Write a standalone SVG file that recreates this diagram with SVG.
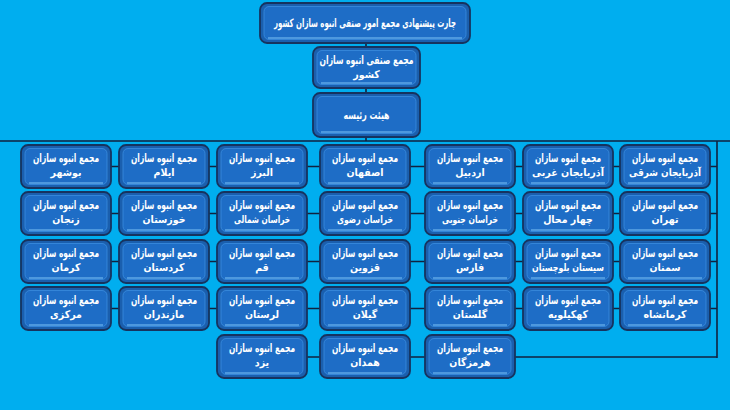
<svg xmlns="http://www.w3.org/2000/svg" width="730" height="410" viewBox="0 0 730 410">
<style>
.o{fill:#1a5fae;stroke:#16335f;stroke-width:1.8}
.i{fill:#1e6dc6;stroke:#3b8ee0;stroke-width:0.8}
.s{stroke:#7cc4f5;stroke-width:1.2}
.t{font-family:"DejaVu Sans Condensed","DejaVu Sans",sans-serif;font-weight:bold;font-size:11.5px;fill:#ffffff;text-anchor:middle}
.p{font-size:10.5px}
.c{stroke:#10223f;stroke-width:1.6;fill:none}
</style>
<rect width="730" height="410" fill="#00aeef"/>
<g id="connectors">
<path class="c" d="M366 43V47M366 88V93M366 137V141M0 141H730M717 141V358M110 166.5H717M110 213.5H717M110 261.5H717M110 308.5H717M306 357H717"/>
</g>
<g id="title"><rect class="o" x="260" y="3" width="210" height="40" rx="7"/><rect class="i" x="264" y="6.5" width="202" height="33" rx="5"/><line class="s" x1="268" y1="38" x2="462" y2="38"/><text class="t" x="365" y="27" font-size="12.5" textLength="182" lengthAdjust="spacingAndGlyphs">چارت پیشنهادی مجمع امور صنفی انبوه سازان کشور</text></g>
<g id="n-keshvar"><rect class="o" x="313" y="47" width="107" height="41" rx="7"/><rect class="i" x="317" y="50.5" width="99" height="34" rx="5"/><line class="s" x1="321" y1="83" x2="412" y2="83"/><text class="t" x="366.5" y="64" textLength="94" lengthAdjust="spacingAndGlyphs">مجمع صنفی انبوه سازان</text><text class="t p" x="366.5" y="78">کشور</text></g>
<g id="n-heyat"><rect class="o" x="313" y="93" width="107" height="44" rx="7"/><rect class="i" x="317" y="96.5" width="99" height="37" rx="5"/><line class="s" x1="321" y1="132" x2="412" y2="132"/><text class="t" x="366.5" y="119" textLength="46" lengthAdjust="spacingAndGlyphs">هیئت رئیسه</text></g>

<g id="n-azsharghi"><rect class="o" x="620" y="145" width="90" height="43" rx="7"/><rect class="i" x="624" y="148.5" width="82" height="36" rx="5"/><line class="s" x1="628" y1="183" x2="702" y2="183"/><text class="t" x="665" y="162" textLength="66" lengthAdjust="spacingAndGlyphs">مجمع انبوه سازان</text><text class="t p" x="665" y="176" textLength="72" lengthAdjust="spacingAndGlyphs">آذربایجان شرقی</text></g>
<g id="n-azgharbi"><rect class="o" x="523" y="145" width="90" height="43" rx="7"/><rect class="i" x="527" y="148.5" width="82" height="36" rx="5"/><line class="s" x1="531" y1="183" x2="605" y2="183"/><text class="t" x="568" y="162" textLength="66" lengthAdjust="spacingAndGlyphs">مجمع انبوه سازان</text><text class="t p" x="568" y="176" textLength="72" lengthAdjust="spacingAndGlyphs">آذربایجان غربی</text></g>
<g id="n-ardebil"><rect class="o" x="425" y="145" width="90" height="43" rx="7"/><rect class="i" x="429" y="148.5" width="82" height="36" rx="5"/><line class="s" x1="433" y1="183" x2="507" y2="183"/><text class="t" x="470" y="162" textLength="66" lengthAdjust="spacingAndGlyphs">مجمع انبوه سازان</text><text class="t p" x="470" y="176">اردبیل</text></g>
<g id="n-esfahan"><rect class="o" x="320" y="145" width="90" height="43" rx="7"/><rect class="i" x="324" y="148.5" width="82" height="36" rx="5"/><line class="s" x1="328" y1="183" x2="402" y2="183"/><text class="t" x="365" y="162" textLength="66" lengthAdjust="spacingAndGlyphs">مجمع انبوه سازان</text><text class="t p" x="365" y="176">اصفهان</text></g>
<g id="n-alborz"><rect class="o" x="217" y="145" width="90" height="43" rx="7"/><rect class="i" x="221" y="148.5" width="82" height="36" rx="5"/><line class="s" x1="225" y1="183" x2="299" y2="183"/><text class="t" x="262" y="162" textLength="66" lengthAdjust="spacingAndGlyphs">مجمع انبوه سازان</text><text class="t p" x="262" y="176">البرز</text></g>
<g id="n-ilam"><rect class="o" x="119" y="145" width="90" height="43" rx="7"/><rect class="i" x="123" y="148.5" width="82" height="36" rx="5"/><line class="s" x1="127" y1="183" x2="201" y2="183"/><text class="t" x="164" y="162" textLength="66" lengthAdjust="spacingAndGlyphs">مجمع انبوه سازان</text><text class="t p" x="164" y="176">ایلام</text></g>
<g id="n-bushehr"><rect class="o" x="21" y="145" width="90" height="43" rx="7"/><rect class="i" x="25" y="148.5" width="82" height="36" rx="5"/><line class="s" x1="29" y1="183" x2="103" y2="183"/><text class="t" x="66" y="162" textLength="66" lengthAdjust="spacingAndGlyphs">مجمع انبوه سازان</text><text class="t p" x="66" y="176">بوشهر</text></g>

<g id="n-tehran"><rect class="o" x="620" y="192" width="90" height="43" rx="7"/><rect class="i" x="624" y="195.5" width="82" height="36" rx="5"/><line class="s" x1="628" y1="230" x2="702" y2="230"/><text class="t" x="665" y="209" textLength="66" lengthAdjust="spacingAndGlyphs">مجمع انبوه سازان</text><text class="t p" x="665" y="223">تهران</text></g>
<g id="n-chaharmahal"><rect class="o" x="523" y="192" width="90" height="43" rx="7"/><rect class="i" x="527" y="195.5" width="82" height="36" rx="5"/><line class="s" x1="531" y1="230" x2="605" y2="230"/><text class="t" x="568" y="209" textLength="66" lengthAdjust="spacingAndGlyphs">مجمع انبوه سازان</text><text class="t p" x="568" y="223">چهار محال</text></g>
<g id="n-khjonubi"><rect class="o" x="425" y="192" width="90" height="43" rx="7"/><rect class="i" x="429" y="195.5" width="82" height="36" rx="5"/><line class="s" x1="433" y1="230" x2="507" y2="230"/><text class="t" x="470" y="209" textLength="66" lengthAdjust="spacingAndGlyphs">مجمع انبوه سازان</text><text class="t p" x="470" y="223" textLength="56" lengthAdjust="spacingAndGlyphs">خراسان جنوبی</text></g>
<g id="n-khrazavi"><rect class="o" x="320" y="192" width="90" height="43" rx="7"/><rect class="i" x="324" y="195.5" width="82" height="36" rx="5"/><line class="s" x1="328" y1="230" x2="402" y2="230"/><text class="t" x="365" y="209" textLength="66" lengthAdjust="spacingAndGlyphs">مجمع انبوه سازان</text><text class="t p" x="365" y="223" textLength="56" lengthAdjust="spacingAndGlyphs">خراسان رضوی</text></g>
<g id="n-khshomali"><rect class="o" x="217" y="192" width="90" height="43" rx="7"/><rect class="i" x="221" y="195.5" width="82" height="36" rx="5"/><line class="s" x1="225" y1="230" x2="299" y2="230"/><text class="t" x="262" y="209" textLength="66" lengthAdjust="spacingAndGlyphs">مجمع انبوه سازان</text><text class="t p" x="262" y="223" textLength="56" lengthAdjust="spacingAndGlyphs">خراسان شمالی</text></g>
<g id="n-khuzestan"><rect class="o" x="119" y="192" width="90" height="43" rx="7"/><rect class="i" x="123" y="195.5" width="82" height="36" rx="5"/><line class="s" x1="127" y1="230" x2="201" y2="230"/><text class="t" x="164" y="209" textLength="66" lengthAdjust="spacingAndGlyphs">مجمع انبوه سازان</text><text class="t p" x="164" y="223">خوزستان</text></g>
<g id="n-zanjan"><rect class="o" x="21" y="192" width="90" height="43" rx="7"/><rect class="i" x="25" y="195.5" width="82" height="36" rx="5"/><line class="s" x1="29" y1="230" x2="103" y2="230"/><text class="t" x="66" y="209" textLength="66" lengthAdjust="spacingAndGlyphs">مجمع انبوه سازان</text><text class="t p" x="66" y="223">زنجان</text></g>

<g id="n-semnan"><rect class="o" x="620" y="240" width="90" height="43" rx="7"/><rect class="i" x="624" y="243.5" width="82" height="36" rx="5"/><line class="s" x1="628" y1="278" x2="702" y2="278"/><text class="t" x="665" y="257" textLength="66" lengthAdjust="spacingAndGlyphs">مجمع انبوه سازان</text><text class="t p" x="665" y="271">سمنان</text></g>
<g id="n-sistan"><rect class="o" x="523" y="240" width="90" height="43" rx="7"/><rect class="i" x="527" y="243.5" width="82" height="36" rx="5"/><line class="s" x1="531" y1="278" x2="605" y2="278"/><text class="t" x="568" y="257" textLength="66" lengthAdjust="spacingAndGlyphs">مجمع انبوه سازان</text><text class="t p" x="568" y="271" textLength="72" lengthAdjust="spacingAndGlyphs">سیستان بلوچستان</text></g>
<g id="n-fars"><rect class="o" x="425" y="240" width="90" height="43" rx="7"/><rect class="i" x="429" y="243.5" width="82" height="36" rx="5"/><line class="s" x1="433" y1="278" x2="507" y2="278"/><text class="t" x="470" y="257" textLength="66" lengthAdjust="spacingAndGlyphs">مجمع انبوه سازان</text><text class="t p" x="470" y="271">فارس</text></g>
<g id="n-qazvin"><rect class="o" x="320" y="240" width="90" height="43" rx="7"/><rect class="i" x="324" y="243.5" width="82" height="36" rx="5"/><line class="s" x1="328" y1="278" x2="402" y2="278"/><text class="t" x="365" y="257" textLength="66" lengthAdjust="spacingAndGlyphs">مجمع انبوه سازان</text><text class="t p" x="365" y="271">قزوین</text></g>
<g id="n-qom"><rect class="o" x="217" y="240" width="90" height="43" rx="7"/><rect class="i" x="221" y="243.5" width="82" height="36" rx="5"/><line class="s" x1="225" y1="278" x2="299" y2="278"/><text class="t" x="262" y="257" textLength="66" lengthAdjust="spacingAndGlyphs">مجمع انبوه سازان</text><text class="t p" x="262" y="271">قم</text></g>
<g id="n-kordestan"><rect class="o" x="119" y="240" width="90" height="43" rx="7"/><rect class="i" x="123" y="243.5" width="82" height="36" rx="5"/><line class="s" x1="127" y1="278" x2="201" y2="278"/><text class="t" x="164" y="257" textLength="66" lengthAdjust="spacingAndGlyphs">مجمع انبوه سازان</text><text class="t p" x="164" y="271">کردستان</text></g>
<g id="n-kerman"><rect class="o" x="21" y="240" width="90" height="43" rx="7"/><rect class="i" x="25" y="243.5" width="82" height="36" rx="5"/><line class="s" x1="29" y1="278" x2="103" y2="278"/><text class="t" x="66" y="257" textLength="66" lengthAdjust="spacingAndGlyphs">مجمع انبوه سازان</text><text class="t p" x="66" y="271">کرمان</text></g>

<g id="n-kermanshah"><rect class="o" x="620" y="287" width="90" height="43" rx="7"/><rect class="i" x="624" y="290.5" width="82" height="36" rx="5"/><line class="s" x1="628" y1="325" x2="702" y2="325"/><text class="t" x="665" y="304" textLength="66" lengthAdjust="spacingAndGlyphs">مجمع انبوه سازان</text><text class="t p" x="665" y="318">کرمانشاه</text></g>
<g id="n-kohgiluyeh"><rect class="o" x="523" y="287" width="90" height="43" rx="7"/><rect class="i" x="527" y="290.5" width="82" height="36" rx="5"/><line class="s" x1="531" y1="325" x2="605" y2="325"/><text class="t" x="568" y="304" textLength="66" lengthAdjust="spacingAndGlyphs">مجمع انبوه سازان</text><text class="t p" x="568" y="318">کهکیلویه</text></g>
<g id="n-golestan"><rect class="o" x="425" y="287" width="90" height="43" rx="7"/><rect class="i" x="429" y="290.5" width="82" height="36" rx="5"/><line class="s" x1="433" y1="325" x2="507" y2="325"/><text class="t" x="470" y="304" textLength="66" lengthAdjust="spacingAndGlyphs">مجمع انبوه سازان</text><text class="t p" x="470" y="318">گلستان</text></g>
<g id="n-gilan"><rect class="o" x="320" y="287" width="90" height="43" rx="7"/><rect class="i" x="324" y="290.5" width="82" height="36" rx="5"/><line class="s" x1="328" y1="325" x2="402" y2="325"/><text class="t" x="365" y="304" textLength="66" lengthAdjust="spacingAndGlyphs">مجمع انبوه سازان</text><text class="t p" x="365" y="318">گیلان</text></g>
<g id="n-lorestan"><rect class="o" x="217" y="287" width="90" height="43" rx="7"/><rect class="i" x="221" y="290.5" width="82" height="36" rx="5"/><line class="s" x1="225" y1="325" x2="299" y2="325"/><text class="t" x="262" y="304" textLength="66" lengthAdjust="spacingAndGlyphs">مجمع انبوه سازان</text><text class="t p" x="262" y="318">لرستان</text></g>
<g id="n-mazandaran"><rect class="o" x="119" y="287" width="90" height="43" rx="7"/><rect class="i" x="123" y="290.5" width="82" height="36" rx="5"/><line class="s" x1="127" y1="325" x2="201" y2="325"/><text class="t" x="164" y="304" textLength="66" lengthAdjust="spacingAndGlyphs">مجمع انبوه سازان</text><text class="t p" x="164" y="318">مازندران</text></g>
<g id="n-markazi"><rect class="o" x="21" y="287" width="90" height="43" rx="7"/><rect class="i" x="25" y="290.5" width="82" height="36" rx="5"/><line class="s" x1="29" y1="325" x2="103" y2="325"/><text class="t" x="66" y="304" textLength="66" lengthAdjust="spacingAndGlyphs">مجمع انبوه سازان</text><text class="t p" x="66" y="318">مرکزی</text></g>

<g id="n-hormozgan"><rect class="o" x="425" y="335" width="90" height="43" rx="7"/><rect class="i" x="429" y="338.5" width="82" height="36" rx="5"/><line class="s" x1="433" y1="373" x2="507" y2="373"/><text class="t" x="470" y="352" textLength="66" lengthAdjust="spacingAndGlyphs">مجمع انبوه سازان</text><text class="t p" x="470" y="366">هرمزگان</text></g>
<g id="n-hamedan"><rect class="o" x="320" y="335" width="90" height="43" rx="7"/><rect class="i" x="324" y="338.5" width="82" height="36" rx="5"/><line class="s" x1="328" y1="373" x2="402" y2="373"/><text class="t" x="365" y="352" textLength="66" lengthAdjust="spacingAndGlyphs">مجمع انبوه سازان</text><text class="t p" x="365" y="366">همدان</text></g>
<g id="n-yazd"><rect class="o" x="217" y="335" width="90" height="43" rx="7"/><rect class="i" x="221" y="338.5" width="82" height="36" rx="5"/><line class="s" x1="225" y1="373" x2="299" y2="373"/><text class="t" x="262" y="352" textLength="66" lengthAdjust="spacingAndGlyphs">مجمع انبوه سازان</text><text class="t p" x="262" y="366">یزد</text></g>
</svg>
